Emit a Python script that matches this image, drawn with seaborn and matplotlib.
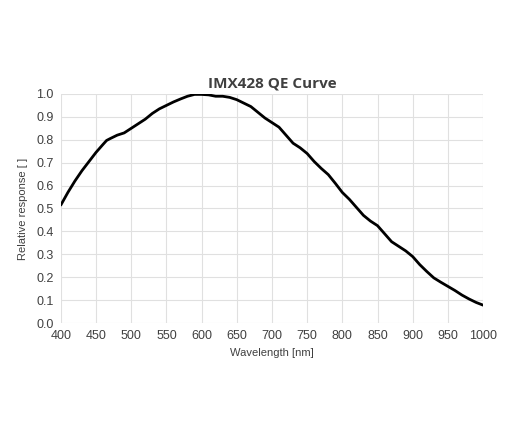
import numpy as np
import matplotlib.pyplot as plt
import seaborn as sns
import pandas as pd

# wavelength [nm] and relative response
wavelength = [400, 410, 420, 430, 440, 450, 460, 465, 470, 480, 490, 500,
              510, 520, 530, 540, 550, 560, 570, 580, 590, 600, 610, 620,
              630, 640, 650, 660, 670, 680, 690, 700, 710, 720, 730, 740,
              750, 760, 770, 780, 790, 800, 810, 820, 830, 840, 850, 860,
              870, 880, 890, 900, 910, 920, 930, 940, 950, 960, 970, 980,
              990, 1000]
response = [0.515, 0.57, 0.62, 0.665, 0.705, 0.745, 0.78, 0.797, 0.805, 0.82, 0.83, 0.85,
            0.87, 0.89, 0.915, 0.935, 0.95, 0.965, 0.978, 0.99, 0.998, 0.998, 0.996, 0.99,
            0.99, 0.985, 0.975, 0.96, 0.945, 0.92, 0.895, 0.875, 0.855, 0.82, 0.785, 0.765,
            0.74, 0.705, 0.675, 0.648, 0.61, 0.57, 0.54, 0.505, 0.47, 0.445, 0.425, 0.39,
            0.355, 0.335, 0.315, 0.29, 0.255, 0.225, 0.197, 0.178, 0.16, 0.142, 0.122, 0.105,
            0.09, 0.078]

x_ticks = list(range(400, 1001, 50))
y_ticks = [round(v * 0.1, 1) for v in range(11)]

df = pd.DataFrame({"wavelength": wavelength, "response": response})

sns.set_style("white")
plt.rcParams["font.family"] = ["Liberation Sans", "DejaVu Sans"]

fig = plt.figure(figsize=(5.2, 4.33), dpi=100)
ax = fig.add_axes([0.117, 0.254, 0.812, 0.529])

sns.lineplot(data=df, x="wavelength", y="response", color="black", linewidth=2, ax=ax)

ax.set_xlim(400, 1000)
ax.set_ylim(0, 1.0)
ax.set_xticks(x_ticks)
ax.set_yticks(y_ticks)
ax.set_yticklabels([f"{v:.1f}" for v in y_ticks])
ax.grid(True, color="#e0e0e0", linewidth=0.8)
ax.set_axisbelow(True)
for s in ax.spines.values():
    s.set_visible(False)
ax.tick_params(axis="both", length=0, labelsize=9, colors="#404040", pad=5)

ax.set_xlabel("Wavelength [nm]", fontsize=8, color="#404040", labelpad=4)
ax.set_ylabel("Relative response [ ]", fontsize=8, color="#404040", labelpad=6)
ax.set_title("IMX428 QE Curve", fontsize=11, fontweight="bold", color="#404040",
             family=["Open Sans", "DejaVu Sans"], pad=5)

fig.savefig("out.png", dpi=100, facecolor="white")
